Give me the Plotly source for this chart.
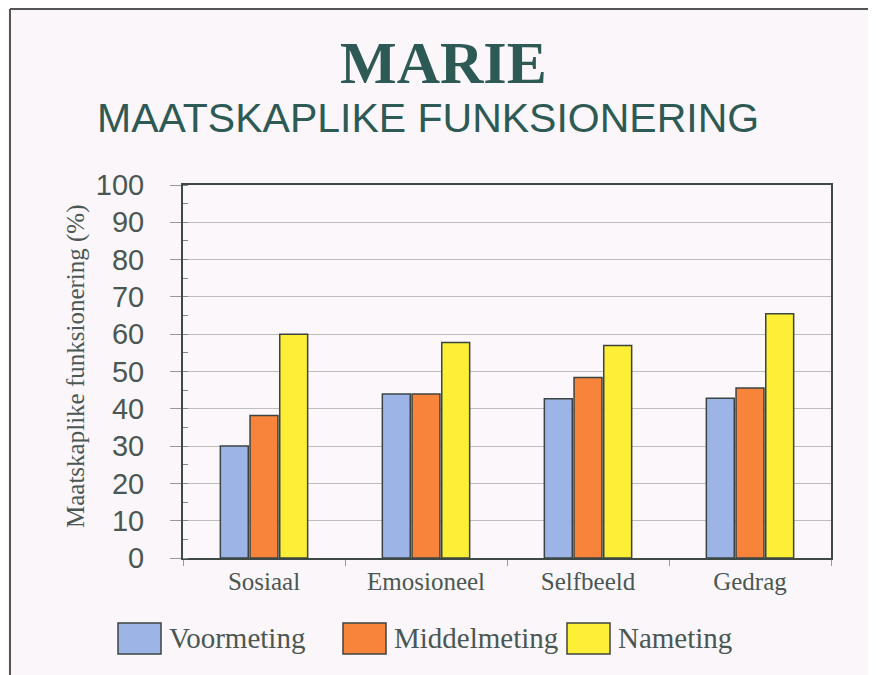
import plotly.graph_objects as go

categories = ["Sosiaal", "Emosioneel", "Selfbeeld", "Gedrag"]
series_names = ["Voormeting", "Middelmeting", "Nameting"]
voormeting = [30, 44, 42.7, 42.8]
middelmeting = [38.2, 44, 48.4, 45.6]
nameting = [60, 57.8, 57, 65.5]
series_values = [voormeting, middelmeting, nameting]
colors = ["#9DB5E6", "#F7843A", "#FDEE36"]
y_ticks = list(range(0, 101, 10))

OFF = 8  # page body margin
W, H = 876 - OFF, 675 - OFF
L, R, T, B = 183 - OFF, 831 - OFF, 185 - OFF, 558 - OFF


def px(x):
    return (x - OFF - L) / (R - L)


def py(y):
    return (B - (y - OFF)) / (B - T)


fig = go.Figure()
for name, vals, col in zip(series_names, series_values, colors):
    fig.add_trace(go.Bar(
        x=categories, y=vals, name=name,
        marker=dict(color=col, line=dict(color="#3C4442", width=1.5)),
        showlegend=False,
    ))

text_col = "#4A5753"
title_col = "#2E5A55"

annotations = [
    dict(text="<b>MARIE</b>", x=px(443), y=py(63), xref="paper", yref="paper",
         showarrow=False, xanchor="center", yanchor="middle",
         font=dict(family="Liberation Serif", size=60, color=title_col)),
    dict(text="MAATSKAPLIKE FUNKSIONERING", x=px(428), y=py(118), xref="paper", yref="paper",
         showarrow=False, xanchor="center", yanchor="middle",
         font=dict(family="Liberation Sans", size=41, color=title_col)),
    dict(text="Maatskaplike funksionering (%)", x=px(76), y=py(366), xref="paper", yref="paper",
         showarrow=False, xanchor="center", yanchor="middle", textangle=-90,
         font=dict(family="Liberation Serif", size=25, color=text_col)),
]

shapes = [
    dict(type="line", xref="paper", yref="paper", x0=px(10), x1=px(900), y0=py(9), y1=py(9),
         line=dict(color="#555555", width=2)),
    dict(type="line", xref="paper", yref="paper", x0=px(10), x1=px(10), y0=py(9), y1=py(700),
         line=dict(color="#555555", width=2)),
]

legend_swatch_x = [118, 343, 567]
for name, col, sx in zip(series_names, colors, legend_swatch_x):
    shapes.append(dict(type="rect", xref="paper", yref="paper",
                       x0=px(sx), x1=px(sx + 43), y0=py(654), y1=py(623),
                       fillcolor=col, line=dict(color="#3C4442", width=1.5)))
    annotations.append(dict(text=name, x=px(sx + 49), y=py(638), xref="paper", yref="paper",
                            showarrow=False, xanchor="left", yanchor="middle",
                            font=dict(family="Liberation Serif", size=29, color=text_col)))

fig.update_layout(
    width=W, height=H,
    margin=dict(l=L, r=W - R, t=T, b=H - B, pad=0),
    paper_bgcolor="#FBF6FA",
    plot_bgcolor="#FBF7FA",
    barmode="group",
    bargap=0.45,
    bargroupgap=0.06,
    annotations=annotations,
    shapes=shapes,
    xaxis=dict(
        showline=True, linecolor="#3E4845", linewidth=2, mirror=True,
        ticks="outside", tickson="boundaries", ticklen=6, tickcolor="#999999",
        tickfont=dict(family="Liberation Serif", size=25, color=text_col),
        showgrid=False,
    ),
    yaxis=dict(
        range=[0, 100], tickvals=y_ticks,
        showline=True, linecolor="#3E4845", linewidth=2, mirror=True,
        ticks="outside", ticklen=11, tickcolor="#999999",
        ticklabelstandoff=20,
        tickfont=dict(family="Liberation Sans", size=29, color=text_col),
        showgrid=True, gridcolor="#BDBDBD", gridwidth=1,
        zeroline=False,
        minor=dict(dtick=5, ticks="inside", ticklen=5, tickcolor="#888888", showgrid=False),
    ),
)

fig.write_html("out.html")
